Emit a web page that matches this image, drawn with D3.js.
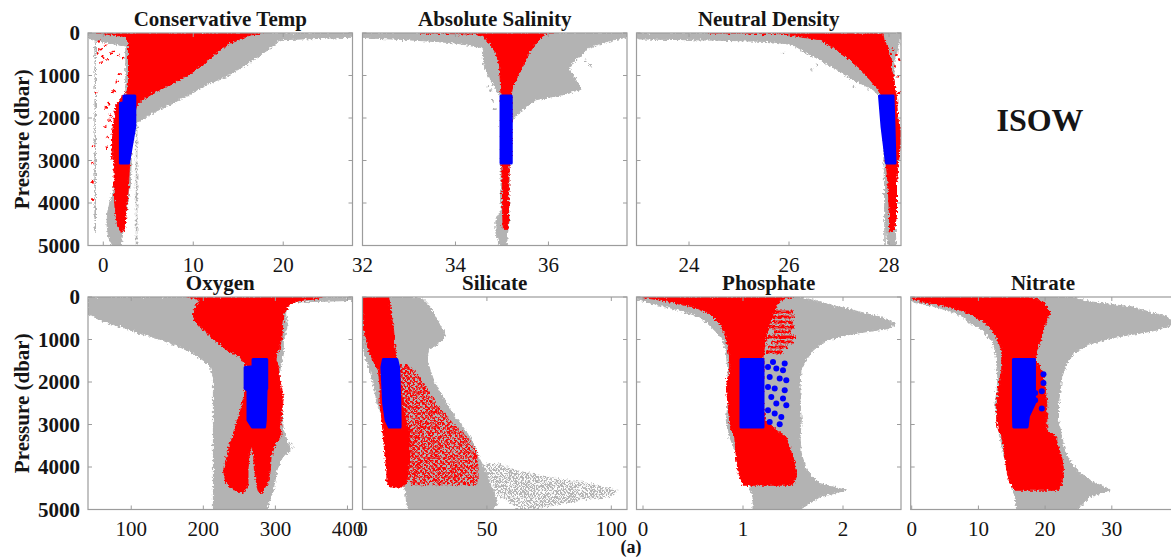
<!DOCTYPE html>
<html>
<head>
<meta charset="utf-8">
<script src="https://cdn.jsdelivr.net/npm/d3@7"></script>
<style>
  html, body { margin: 0; padding: 0; background: #ffffff; }
  svg { display: block; }
  svg text { font-family: "Liberation Serif", "Times New Roman", serif; }
</style>
</head>
<body>
<svg id="chart" width="1171" height="559"></svg>
<script>
// ---- Axis ticks ----
const pressureTicks = [0, 1000, 2000, 3000, 4000, 5000];
const ctTicks = [0, 10, 20];
const saTicks = [32, 34, 36];
const gnTicks = [24, 26, 28];
const oxTicks = [100, 200, 300, 400];
const siTicks = [0, 50, 100];
const poTicks = [0, 1, 2];
const noTicks = [0, 10, 20, 30];

// ---- Property envelopes: rows of [pressure (dbar), lowest value, highest value] ----
// Conservative Temperature
const ctGray = [[0,-1.7,27.7],[100,-1.7,27.7],[160,-1.2,19.6],[310,2.5,18.9],[470,2.5,17.8],[630,2.5,16.7],[780,2.5,15.6],[1020,2.5,13.7],[1250,2.5,11.1],[1490,2.5,9.3],[1720,2.5,7.0],[1960,2.3,4.8],[2120,2.2,3.7],[2270,2.0,3.1],[3000,1.6,3.1],[3600,1.2,3.0],[4200,0.5,2.6],[4500,0.4,2.3],[4800,0.6,2.1],[5000,0.9,2.0]];
const ctTraces = [[-0.9,200,4700],[3.7,2150,5000]];
const ctRed = [[0,-0.7,17.8],[40,0.8,16.5],[80,2.4,15.9],[235,2.8,14.1],[470,2.8,12.6],[705,2.8,11.3],[940,2.8,9.8],[1175,2.8,7.8],[1410,2.6,5.6],[1570,1.8,4.4],[1720,1.4,3.7],[1880,1.3,3.5],[2200,1.1,3.4],[2500,0.9,3.2],[2820,1.0,3.0],[3130,1.2,2.9],[3600,1.2,2.8],[4100,1.3,2.6],[4550,1.6,2.4],[4660,1.9,2.2]];
const ctRedDots = [[-1.2,2660],[-1.2,3060],[-1.2,3500],[-1.2,3920],[-0.8,1400],[-0.6,480],[-0.3,380],[0.0,560],[0.5,620],[0.9,480],[-0.2,700],[0.3,1750],[0.6,1650],[0.8,1950],[0.2,2200],[0.5,2450],[0.4,2700],[0.9,2950],[1.2,1350],[1.5,1150],[1.8,950],[2.0,1500],[1.0,1400],[0.7,2050],[1.1,2300],[-0.5,200],[0.2,300],[1.2,420],[1.7,520],[2.2,590]];
const ctBlue = [[1480,2.3,3.5],[1640,2.3,3.5],[1660,1.9,3.5],[2200,1.9,3.5],[3060,1.9,2.8]];

// Absolute Salinity
const saGray = [[0,32,37.7],[100,32,37.7],[120,32.2,37.6],[160,33.0,37.4],[235,34.0,37.17],[350,34.6,36.85],[470,34.6,36.77],[700,34.6,36.52],[860,34.65,36.45],[1100,34.75,36.6],[1330,34.87,36.7],[1450,34.95,36.31],[1570,34.98,35.73],[1800,34.98,35.45],[2040,34.98,35.23],[2350,34.98,35.16],[4200,34.98,35.15],[4400,34.87,35.16],[4700,34.87,35.12],[5000,34.95,35.1]];
const saRed = [[0,33.2,36.1],[25,34.4,35.9],[78,34.59,35.88],[235,34.73,35.73],[470,34.87,35.59],[780,34.95,35.45],[1020,34.96,35.34],[1250,34.97,35.23],[1450,34.98,35.2],[3060,35.0,35.2],[3100,35.0,35.15],[4400,35.02,35.14],[4620,35.03,35.13]];
const saGrayDots = [[34.7,1250],[34.75,1350],[34.8,1600],[34.85,1800],[36.8,650],[36.9,760]];
const saBlue = [[1480,34.98,35.2],[3060,34.98,35.2]];

// Neutral Density
const gnGray = [[0,22.94,28.25],[100,22.94,28.25],[140,23.0,28.2],[170,24.6,28.2],[200,25.6,28.2],[275,26.08,28.2],[470,26.35,28.15],[630,26.62,28.1],[860,26.95,28.1],[1100,27.28,28.1],[1330,27.68,28.1],[1570,27.88,28.1],[3100,27.9,28.1],[4500,27.93,28.12],[5000,27.98,28.14]];
const gnTraces = [[27.92,3100,5000]];
const gnGrayDots = [[25.88,470],[26.55,745],[26.45,860],[27.42,1175],[27.58,1330],[27.3,1250]];
const gnRed = [[0,24.4,27.88],[15,25.8,27.88],[160,26.62,27.9],[390,26.95,28.0],[630,27.22,28.05],[860,27.42,28.05],[1100,27.62,28.1],[1330,27.78,28.12],[1490,27.85,28.15],[1960,27.88,28.17],[2350,27.9,28.25],[2740,27.92,28.22],[3130,27.95,28.18],[3530,27.98,28.15],[4300,28.01,28.15],[4620,28.01,28.11],[4660,28.03,28.08]];
const gnRedDots = [[28.08,390],[28.15,510],[28.21,630],[28.11,780],[28.18,1020],[28.05,1250],[28.2,1410],[24.8,20],[25.2,10],[25.5,25]];
const gnBlue = [[1480,27.81,28.08],[2200,27.86,28.1],[3060,27.95,28.12]];

// Oxygen
const oxGray = [[0,40,407],[80,40,407],[120,40,325],[160,40,318],[390,40,314],[550,57,316],[700,85,316],[860,112,314],[1020,145,311],[1180,168,311],[1330,186,311],[1490,200,309],[1650,210,307],[1880,214,305],[2200,214,302],[2660,214,309],[3130,214,311],[3450,214,318],[3600,214,321],[3760,214,310],[4075,214,302],[4550,214,297],[5000,214,288]];
const oxGrayDots = [[325,3530],[322,3450],[318,3600],[220,1750],[232,1500]];
const oxRed = [[0,177,367],[40,190,360],[80,196,334],[160,191,320],[390,186,312],[550,188,311],[700,196,310],[940,210,309],[1250,233,305],[1410,251,300],[1650,260,304],[1960,260,306],[2350,256,311],[2660,252,309],[3135,243,307],[3290,241,308],[3450,237,300]];
const oxRedLegA = [[3450,237,268],[3760,233,263],[4075,228,262],[4390,232,262],[4550,243,258],[4600,250,255]];
const oxRedLegB = [[3450,266,300],[3760,270,294],[4075,271,293],[4390,274,289],[4550,276,284],[4600,278,282]];
const oxBlue = [[1470,269,288],[1640,269,288],[1660,258,288],[2150,258,288],[2200,262,287],[2900,262,286],[3060,268,285]];

// Silicate
const siGray = [[0,0,19.2],[40,0,24],[235,0,27.2],[549,0,29.9],[784,0,32.6],[940,0,33.2],[1058,0,31.2],[1254,0.5,26.5],[1489,1.5,25.9],[1724,3.1,27.2],[1960,4,28.6],[2194,5,30.6],[2508,5.8,33.9],[2821,8.4,37.3],[3135,9.8,41.3],[3448,11,44.6],[3762,12.5,46.6],[3998,13.8,48.7],[4232,15,50],[4546,17.2,52.7],[4859,17.8,54],[5000,18.5,52.7]];
const siGrayTail = [[3920,48,55],[4075,48,62],[4232,50,75],[4390,52,92],[4546,53,103],[4702,55,100],[4859,60,80],[5000,62,70]];
const siRed = [[0,0,10.5],[235,0,11.1],[784,0.5,12.5],[1254,2.5,13.1],[1489,4,13.8],[1724,6.4,15],[2116,7.1,15.5],[2508,7.1,16],[2900,7.8,17.5],[3292,8.4,19],[3762,9.1,19],[4075,9.8,18.5],[4390,9.8,17.5],[4470,11,16]];
const siRedSparse = [[1600,13,18],[1724,13,21],[2116,13,25.9],[2508,14,29.9],[2900,15,35.3],[3292,16,42],[3605,17,46],[3918,17,46.6],[4232,17,46.6],[4430,20,46]];
const siBlue = [[1470,8.4,13.8],[1650,7.8,14.5],[2500,8.5,15],[2900,9.5,15.1],[3060,10.8,15.1]];

// Phosphate
const poGray = [[0,-0.067,1.6],[40,-0.067,1.63],[80,-0.03,1.72],[157,0.1,1.83],[313,0.37,2.1],[470,0.57,2.37],[627,0.65,2.53],[745,0.7,2.45],[862,0.75,2.1],[1019,0.8,1.83],[1254,0.83,1.7],[1489,0.84,1.63],[1724,0.85,1.58],[2116,0.85,1.57],[2508,0.85,1.57],[2900,0.833,1.583],[3292,0.867,1.57],[3683,0.933,1.583],[4075,1.033,1.633],[4389,1.067,1.767],[4546,1.07,2.03],[4702,1.1,1.77],[5000,1.1,1.57]];
const poRed = [[0,0,1.5],[16,0,1.45],[78,0.2,1.37],[235,0.5,1.33],[392,0.667,1.3],[627,0.767,1.27],[940,0.833,1.233],[1411,0.867,1.2],[1724,0.867,1.2],[2116,0.833,1.2],[2508,0.85,1.2],[2900,0.867,1.22],[3056,0.87,1.3],[3292,0.917,1.43],[3762,0.933,1.5],[4075,0.95,1.533],[4232,0.967,1.533],[4428,1.0,1.5]];
const poRedDashes = [[353,1.3,1.5],[470,1.28,1.52],[588,1.3,1.5],[705,1.27,1.52],[823,1.3,1.48],[940,1.25,1.52],[1058,1.28,1.5],[1176,1.25,1.45],[1293,1.23,1.4]];
const poBlue = [[1473,0.98,1.2],[3056,0.98,1.2]];
const poBlueDots = [[1.3,1528],[1.417,1567],[1.25,1646],[1.333,1685],[1.4,1724],[1.267,1881],[1.367,1920],[1.433,1959],[1.25,2116],[1.317,2155],[1.417,2194],[1.283,2351],[1.4,2390],[1.333,2508],[1.433,2547],[1.25,2665],[1.317,2743],[1.383,2821],[1.267,2939],[1.367,2994]];

// Nitrate
const noGray = [[0,-0.15,24.75],[40,-0.15,24.75],[118,0.25,27],[235,3.75,33],[313,5.2,34.75],[392,6.75,36.5],[470,7.8,38.25],[627,8.75,39.5],[784,10.75,36.75],[940,11.5,30.75],[1097,12.25,26.75],[1332,12.6,24.25],[1567,12.75,23.25],[1881,12.9,22.5],[2194,12.8,22.25],[2508,12.5,22],[2900,12.75,22],[3292,13.25,22.5],[3683,13.75,23],[4075,14.5,24.75],[4310,14.9,26.75],[4546,15.25,29.75],[4702,15.5,26.75],[5000,15.75,24.75]];
const noRed = [[0,-0.15,17.75],[40,0,18.5],[118,1.75,19.75],[235,5.75,20.25],[392,8.75,20.75],[627,11.25,20],[940,12.75,19.5],[1254,13.5,18.75],[1473,13.5,18.5],[1724,13.5,19.5],[2116,13.0,20],[2508,12.75,20.25],[2900,12.75,20.25],[3135,13,20.25],[3292,13.5,21.75],[3448,13.7,21.75],[3762,14.0,22.5],[4075,14.25,22.75],[4389,14.75,22.5],[4546,15.5,22]];
const noBlue = [[1473,15.25,18.4],[2500,15.25,18.4],[2800,15.25,17.5],[3056,15.3,17.3]];
const noBlueDots = [[19.75,1818],[19.75,2022],[19.5,2218],[18.5,2257],[18.5,2430],[19.5,2625]];

// ---- Drawing ----
const GRAY = "#b3b3b3", RED = "#ff0000", BLUE = "#0000ff", FRAME = "#9c9c9c", INK = "#151515";
const FONT = "Liberation Serif, Times New Roman, serif";
const svg = d3.select("#chart");
const defs = svg.append("defs");

// grainy edge for the dense point clouds
const rough = defs.append("filter").attr("id", "rough")
  .attr("x", "-2%").attr("y", "-2%").attr("width", "104%").attr("height", "104%");
rough.append("feTurbulence").attr("type", "fractalNoise").attr("baseFrequency", 0.45)
  .attr("numOctaves", 2).attr("seed", 3).attr("result", "noise");
rough.append("feDisplacementMap").attr("in", "SourceGraphic").attr("in2", "noise")
  .attr("scale", 5).attr("xChannelSelector", "R").attr("yChannelSelector", "G");

// speckle fills for sparsely sampled parts of the clouds
function speckle(id, color, size, r) {
  const pat = defs.append("pattern").attr("id", id).attr("patternUnits", "userSpaceOnUse")
    .attr("width", size).attr("height", size);
  pat.append("circle").attr("cx", size * 0.25).attr("cy", size * 0.25).attr("r", r).attr("fill", color);
  pat.append("circle").attr("cx", size * 0.75).attr("cy", size * 0.7).attr("r", r).attr("fill", color);
}
speckle("redSpeckle", RED, 5, 1.45);
speckle("graySpeckle", GRAY, 4, 1.2);

const colX = [88, 362.5, 636.5, 910.7];
const rowY = [33, 297];
const PW = 264.5, PH = 212.5;

const panels = [
  { title: "Conservative Temp", c: 0, r: 0, domain: [-1.7, 27.7], ticks: ctTicks,
    gray: [ctGray], traces: ctTraces, grayDots: [], red: [ctRed], redSparse: [], redDots: ctRedDots, dashes: [], blue: [ctBlue], blueDots: [] },
  { title: "Absolute Salinity", c: 1, r: 0, domain: [32, 37.69], ticks: saTicks,
    gray: [saGray], traces: [], grayDots: saGrayDots, red: [saRed], redSparse: [], redDots: [], dashes: [], blue: [saBlue], blueDots: [] },
  { title: "Neutral Density", c: 2, r: 0, domain: [22.95, 28.24], ticks: gnTicks,
    gray: [gnGray], traces: gnTraces, grayDots: gnGrayDots, red: [gnRed], redSparse: [], redDots: gnRedDots, dashes: [], blue: [gnBlue], blueDots: [] },
  { title: "Oxygen", c: 0, r: 1, domain: [40, 407], ticks: oxTicks,
    gray: [oxGray], traces: [], grayDots: oxGrayDots, red: [oxRed, oxRedLegA, oxRedLegB], redSparse: [], redDots: [], dashes: [], blue: [oxBlue], blueDots: [] },
  { title: "Silicate", c: 1, r: 1, domain: [0, 106.3], ticks: siTicks,
    gray: [siGray], grayTail: siGrayTail, traces: [], grayDots: [], red: [siRed], redSparse: [siRedSparse], redDots: [], dashes: [], blue: [siBlue], blueDots: [] },
  { title: "Phosphate", c: 2, r: 1, domain: [-0.065, 2.58], ticks: poTicks,
    gray: [poGray], traces: [], grayDots: [], red: [poRed], redSparse: [], redDots: [], dashes: poRedDashes, blue: [poBlue], blueDots: poBlueDots },
  { title: "Nitrate", c: 3, r: 1, domain: [-0.15, 39.5], ticks: noTicks,
    gray: [noGray], traces: [], grayDots: [], red: [noRed], redSparse: [], redDots: [], dashes: [], blue: [noBlue], blueDots: noBlueDots }
];

function label(sel, size, bold) {
  return sel.attr("font-family", FONT).attr("font-size", size)
    .attr("font-weight", bold ? "bold" : "normal").attr("fill", INK);
}

panels.forEach((p, i) => {
  const x0 = colX[p.c], y0 = rowY[p.r];
  const x = d3.scaleLinear().domain(p.domain).range([x0, x0 + PW]);
  const y = d3.scaleLinear().domain([0, 5000]).range([y0, y0 + PH]);
  const area = d3.area().y(d => y(d[0])).x0(d => x(d[1])).x1(d => x(d[2]));

  defs.append("clipPath").attr("id", "clip" + i)
    .append("rect").attr("x", x0).attr("y", y0).attr("width", PW).attr("height", PH);

  const g = svg.append("g").attr("clip-path", `url(#clip${i})`);
  const cloud = g.append("g").attr("filter", "url(#rough)");

  // gray: all stations
  p.gray.forEach(rows => cloud.append("path").attr("d", area(rows))
    .attr("fill", GRAY).attr("stroke", GRAY).attr("stroke-width", 1));
  if (p.grayTail) cloud.append("path").attr("d", area(p.grayTail)).attr("fill", "url(#graySpeckle)");
  p.traces.forEach(t => cloud.append("rect")
    .attr("x", x(t[0]) - 0.8).attr("width", 1.6)
    .attr("y", y(t[1])).attr("height", y(t[2]) - y(t[1])).attr("fill", GRAY));
  cloud.selectAll(null).data(p.grayDots).join("circle")
    .attr("cx", d => x(d[0])).attr("cy", d => y(d[1])).attr("r", 1.2).attr("fill", GRAY);

  // red: North Atlantic subset
  p.red.forEach(rows => cloud.append("path").attr("d", area(rows))
    .attr("fill", RED).attr("stroke", RED).attr("stroke-width", 1));
  p.redSparse.forEach(rows => cloud.append("path").attr("d", area(rows)).attr("fill", "url(#redSpeckle)"));
  cloud.selectAll(null).data(p.dashes).join("line")
    .attr("x1", d => x(d[1])).attr("x2", d => x(d[2]))
    .attr("y1", d => y(d[0])).attr("y2", d => y(d[0]))
    .attr("stroke", RED).attr("stroke-width", 3);
  cloud.selectAll(null).data(p.redDots).join("circle")
    .attr("cx", d => x(d[0])).attr("cy", d => y(d[1])).attr("r", 1.3).attr("fill", RED);

  // blue: ISOW selection
  p.blue.forEach(rows => g.append("path").attr("d", area(rows))
    .attr("fill", BLUE).attr("stroke", BLUE).attr("stroke-width", 3).attr("stroke-linejoin", "round"));
  g.selectAll(null).data(p.blueDots).join("circle")
    .attr("cx", d => x(d[0])).attr("cy", d => y(d[1])).attr("r", 3).attr("fill", BLUE);

  // frame and inward ticks
  const fr = svg.append("g");
  fr.append("rect").attr("x", x0).attr("y", y0).attr("width", PW).attr("height", PH)
    .attr("fill", "none").attr("stroke", FRAME).attr("stroke-width", 1.2);
  const tl = 4;
  p.ticks.forEach(t => {
    const xp = x(t);
    fr.append("line").attr("x1", xp).attr("x2", xp).attr("y1", y0 + PH).attr("y2", y0 + PH - tl).attr("stroke", FRAME);
    fr.append("line").attr("x1", xp).attr("x2", xp).attr("y1", y0).attr("y2", y0 + tl).attr("stroke", FRAME);
    label(fr.append("text"), 21, false).attr("x", xp).attr("y", y0 + PH + 26)
      .attr("text-anchor", "middle").text(t);
  });
  pressureTicks.forEach(t => {
    const yp = y(t);
    fr.append("line").attr("x1", x0).attr("x2", x0 + tl).attr("y1", yp).attr("y2", yp).attr("stroke", FRAME);
    fr.append("line").attr("x1", x0 + PW).attr("x2", x0 + PW - tl).attr("y1", yp).attr("y2", yp).attr("stroke", FRAME);
    if (p.c === 0) {
      label(fr.append("text"), 21, true).attr("x", x0 - 8).attr("y", yp).attr("dy", "0.35em")
        .attr("text-anchor", "end").text(t);
    }
  });

  label(svg.append("text"), 21, true).attr("x", x0 + PW / 2).attr("y", y0 - 7)
    .attr("text-anchor", "middle").text(p.title);

  if (p.c === 0) {
    label(svg.append("text"), 21, true)
      .attr("transform", `translate(29,${y0 + PH / 2}) rotate(-90)`)
      .attr("text-anchor", "middle").text("Pressure (dbar)");
  }
});

label(svg.append("text"), 32, true).attr("x", 1040).attr("y", 131)
  .attr("text-anchor", "middle").text("ISOW");
label(svg.append("text"), 18, true).attr("x", 631).attr("y", 553)
  .attr("text-anchor", "middle").text("(a)");
</script>
</body>
</html>
